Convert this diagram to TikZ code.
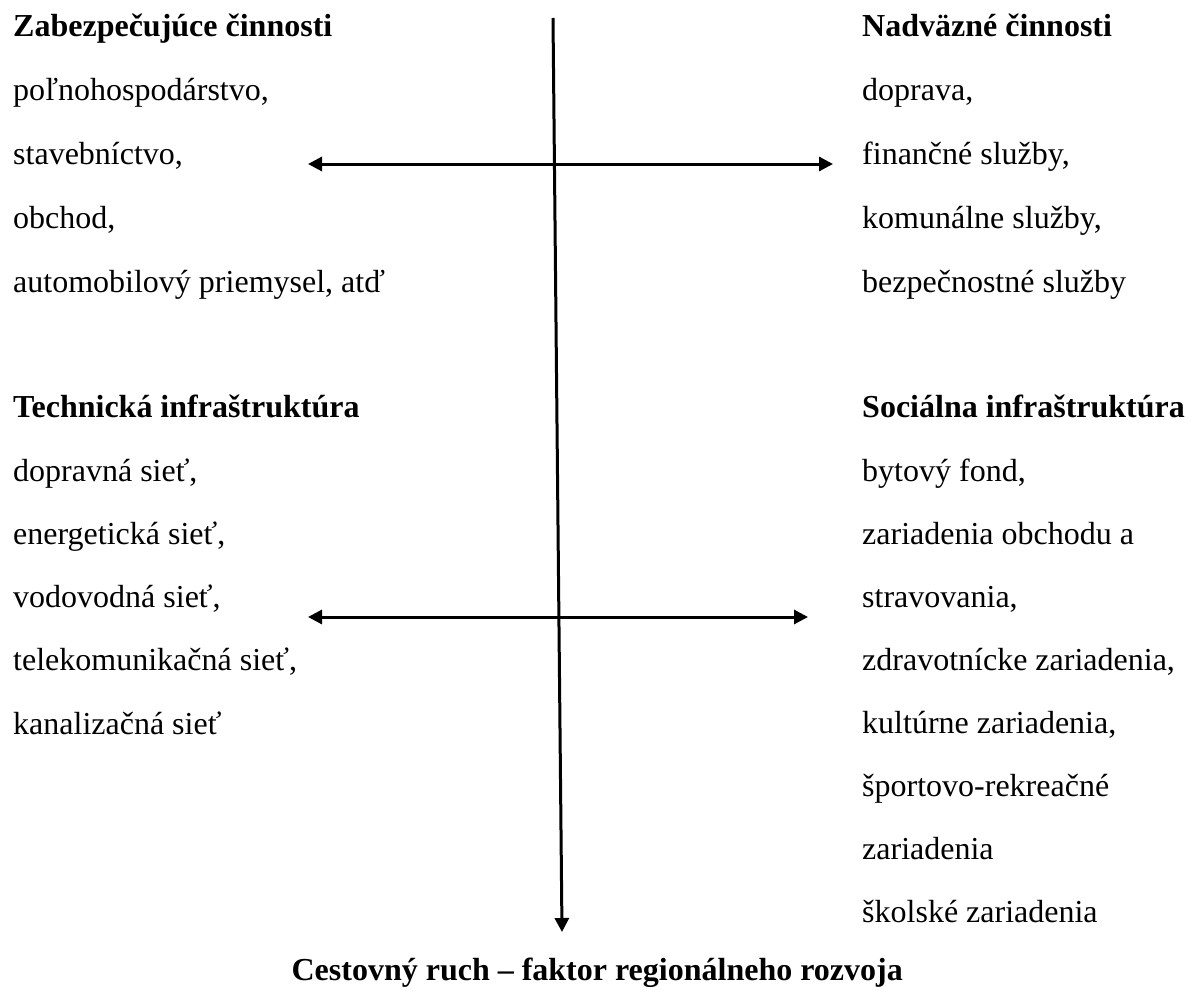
\documentclass[tikz,border=0pt]{standalone}
\usepackage{fontspec}
\setmainfont{Liberation Serif}
\usetikzlibrary{arrows.meta}
\tikzset{
  txt/.style={anchor=base west, inner sep=0pt, font=\fontsize{32}{38}\selectfont},
  hdr/.style={txt, font=\fontsize{32}{38}\selectfont\bfseries},
  conn/.style={line width=3pt, black},
  tipboth/.style={conn, {Triangle[length=14pt,width=14pt]}-{Triangle[length=14pt,width=14pt]}},
  tipend/.style={conn, -{Triangle[length=14pt,width=14pt]}}
}
\begin{document}
\begin{tikzpicture}[x=1pt,y=-1pt]
\useasboundingbox (0,0) rectangle (1189,996);
% left column
\node[hdr] (zh) at (13,36) {Zabezpečujúce činnosti};
\node[txt] (z1) at (13,100) {poľnohospodárstvo,};
\node[txt] (z2) at (13,164) {stavebníctvo,};
\node[txt] (z3) at (13,228) {obchod,};
\node[txt] (z4) at (13,292) {automobilový priemysel, atď};
\node[hdr] (th) at (13,417) {Technická infraštruktúra};
\node[txt] (t1) at (13,481) {dopravná sieť,};
\node[txt] (t2) at (13,544) {energetická sieť,};
\node[txt] (t3) at (13,607) {vodovodná sieť,};
\node[txt] (t4) at (13,670) {telekomunikačná sieť,};
\node[txt] (t5) at (13,734) {kanalizačná sieť};
% right column
\node[hdr] (nh) at (862,36) {Nadväzné činnosti};
\node[txt] (n1) at (862,100) {doprava,};
\node[txt] (n2) at (862,164) {finančné služby,};
\node[txt] (n3) at (862,228) {komunálne služby,};
\node[txt] (n4) at (862,292) {bezpečnostné služby};
\node[hdr] (sh) at (862,417) {Sociálna infraštruktúra};
\node[txt] (s1) at (862,481) {bytový fond,};
\node[txt] (s2) at (862,544) {zariadenia obchodu a};
\node[txt] (s3) at (862,607) {stravovania,};
\node[txt] (s4) at (862,670) {zdravotnícke zariadenia,};
\node[txt] (s5) at (862,733) {kultúrne zariadenia,};
\node[txt] (s6) at (862,796) {športovo-rekreačné};
\node[txt] (s7) at (862,859) {zariadenia};
\node[txt] (s8) at (862,922) {školské zariadenia};
% bottom title
\node[hdr, anchor=base east] (title) at (903,980) {Cestovný ruch – faktor regionálneho rozvoja};
% connectors
\coordinate (vtop) at (553,18);
\coordinate (vbot) at (562,932);
\coordinate (h1l) at (308,164);
\coordinate (h1r) at (833,164);
\coordinate (h2l) at (308,617);
\coordinate (h2r) at (808,617);
\draw[tipend] (vtop) -- (vbot);
\draw[tipboth] (h1l) -- (h1r);
\draw[tipboth] (h2l) -- (h2r);
\end{tikzpicture}
\end{document}
